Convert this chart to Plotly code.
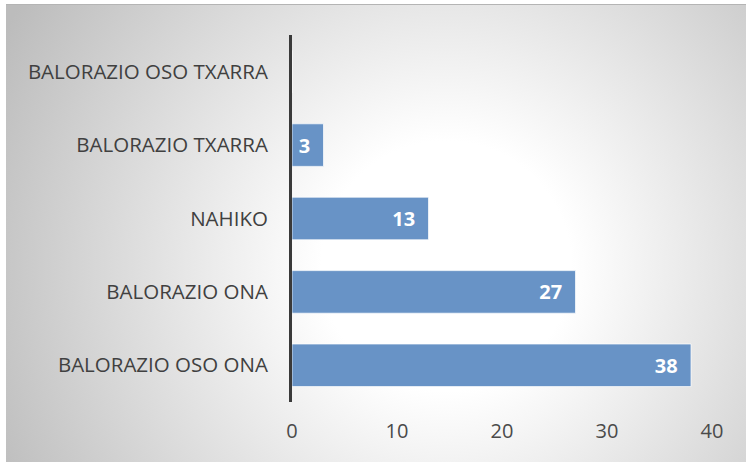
import base64
import plotly.graph_objects as go

categories = ["BALORAZIO OSO ONA", "BALORAZIO ONA", "NAHIKO", "BALORAZIO TXARRA", "BALORAZIO OSO TXARRA"]
values = [38, 27, 13, 3, 0]
x_ticks = [0, 10, 20, 30, 40]

W, H = 746, 462
L, R, T, B = 292, 34, 35, 60
pw, ph = W - L - R, H - T - B

# radial gradient background as svg image
bw, bh = 740, 458
svg = f'''<svg xmlns="http://www.w3.org/2000/svg" width="{bw}" height="{bh}" viewBox="0 0 {bw} {bh}">
<defs><radialGradient id="g" gradientUnits="userSpaceOnUse" cx="440" cy="262" r="500">
<stop offset="0" stop-color="#ffffff"/><stop offset="0.25" stop-color="#ffffff"/><stop offset="1" stop-color="#bcbcbc"/></radialGradient></defs>
<rect x="0" y="0" width="{bw}" height="{bh}" fill="url(#g)"/>
<line x1="0" y1="0.5" x2="{bw}" y2="0.5" stroke="#b4b4b4" stroke-width="1"/>
</svg>'''
src = "data:image/svg+xml;base64," + base64.b64encode(svg.encode()).decode()

nb = "\u00a0"
texts = [str(v) + nb * 2 if v > 0 else "" for v in values]

fig = go.Figure(go.Bar(
    y=categories, x=values, orientation="h",
    marker=dict(color="#6893c6", line=dict(color="rgba(255,255,255,0.7)", width=1)),
    text=texts, textposition="inside", insidetextanchor="end",
    textfont=dict(family="Open Sans", size=20, color="white", weight="bold"),
    cliponaxis=False, hoverinfo="skip",
))

x0 = (6 - L) / pw
x1 = (W - L) / pw
y_top = (H - B - 4) / ph
fig.add_layout_image(dict(source=src, xref="paper", yref="paper", x=x0, y=y_top,
                          sizex=x1 - x0, sizey=y_top + B / ph, xanchor="left", yanchor="top",
                          sizing="stretch", layer="below"))

fig.update_layout(
    width=W, height=H, margin=dict(l=L, r=R, t=T, b=B),
    paper_bgcolor="white", plot_bgcolor="rgba(0,0,0,0)",
    bargap=0.42, showlegend=False,
    font=dict(family="Open Sans", color="#404040"),
    uniformtext=dict(minsize=8, mode="show"),
    xaxis=dict(range=[0, 40], tickvals=x_ticks, showgrid=False, zeroline=False, showline=False,
               tickfont=dict(size=20, color="#4a4a4a"), ticks="", ticklabelstandoff=15),
    yaxis=dict(showline=True, linecolor="#3a3a3a", linewidth=3, showgrid=False, zeroline=False,
               ticks="", ticklabelstandoff=17, tickfont=dict(size=20.5, color="#404040")),
)

fig.write_html("out.html", config={"displayModeBar": False},
               post_script="document.body.style.margin='0';document.body.style.padding='0';")
